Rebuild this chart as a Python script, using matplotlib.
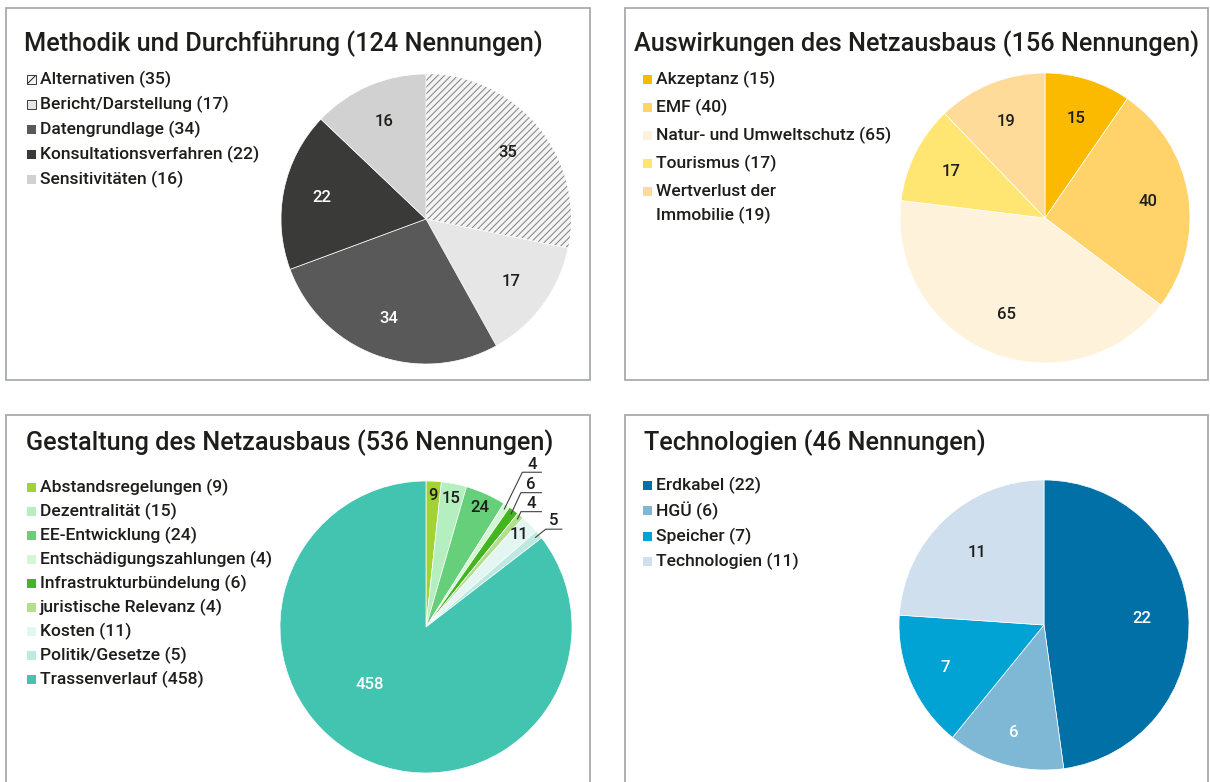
import numpy as np
import matplotlib.pyplot as plt
from matplotlib.patches import Rectangle

plt.rcParams['font.family'] = ['Roboto', 'DejaVu Sans']
plt.rcParams['font.weight'] = 'medium'
plt.rcParams['hatch.linewidth'] = 0.7

W, H = 1210, 782
INK = '#1d1d1b'

# --- data -------------------------------------------------------------
method_title = "Methodik und Durchführung (124 Nennungen)"
method_names = ["Alternativen", "Bericht/Darstellung", "Datengrundlage",
                "Konsultationsverfahren", "Sensitivitäten"]
method_values = [35, 17, 34, 22, 16]
method_colors = ['#f4f4f4', '#e6e6e6', '#595959', '#3a3a39', '#d0d1d0']

impact_title = "Auswirkungen des Netzausbaus (156 Nennungen)"
impact_names = ["Akzeptanz", "EMF", "Natur- und Umweltschutz", "Tourismus",
                "Wertverlust der\nImmobilie"]
impact_values = [15, 40, 65, 17, 19]
impact_colors = ['#fbb900', '#ffd36a', '#fff2da', '#ffe672', '#ffdb9a']

design_title = "Gestaltung des Netzausbaus (536 Nennungen)"
design_names = ["Abstandsregelungen", "Dezentralität", "EE-Entwicklung",
                "Entschädigungszahlungen", "Infrastrukturbündelung",
                "juristische Relevanz", "Kosten", "Politik/Gesetze",
                "Trassenverlauf"]
design_values = [9, 15, 24, 4, 6, 4, 11, 5, 458]
design_colors = ['#a3d233', '#b5eebf', '#65cf79', '#d3f6d5', '#43b51f',
                 '#b2df8e', '#e4f6f1', '#bde9e0', '#43c4b1']

tech_title = "Technologien (46 Nennungen)"
tech_names = ["Erdkabel", "HGÜ", "Speicher", "Technologien"]
tech_values = [22, 6, 7, 11]
tech_colors = ['#0070a7', '#7fb8d5', '#00a3d3', '#cfdfee']

TITLE_SIZE = 18.2
LEGEND_SIZE = 12.6
LABEL_SIZE = 12

# --- figure & background layer in pixel coordinates -------------------
fig = plt.figure(figsize=(W / 100, H / 100), dpi=100)
bg = fig.add_axes([0, 0, 1, 1])
bg.set_xlim(0, W)
bg.set_ylim(H, 0)
bg.axis('off')

panels = [(6, 8, 584, 372), (625, 8, 583, 372),
          (6, 415, 584, 380), (625, 415, 583, 380)]
for x, y, w, h in panels:
    bg.add_patch(Rectangle((x, y), w, h, facecolor='white',
                           edgecolor='#a7abaf', linewidth=1.3, zorder=0))


def legend(x, y0, step, names, values, colors, hatched=None, outlined=None,
           line_gap=24):
    y = y0
    for i, (n, v, c) in enumerate(zip(names, values, colors)):
        hatch = '///' if hatched == i else None
        ec = INK if i in (hatched, outlined) else c
        lw = 0.6 if i in (hatched, outlined) else 0
        bg.add_patch(Rectangle((x, y - 4.5), 9, 9, facecolor=c, edgecolor=ec,
                               linewidth=lw, hatch=hatch, zorder=2))
        lines = f"{n} ({v})".split('\n')
        for k, ln in enumerate(lines):
            bg.text(x + 13, y + k * line_gap, ln, fontsize=LEGEND_SIZE,
                    color=INK, va='center', ha='left')
        y += step + (len(lines) - 1) * line_gap


def pie(cx, cy, r, values, colors, text_colors, dist, hatched=None,
        nudges=None, skip=()):
    ax = fig.add_axes([(cx - r) / W, 1 - (cy + r) / H, 2 * r / W, 2 * r / H])
    wedges, _ = ax.pie(values, colors=colors, startangle=90,
                       counterclock=False, radius=1,
                       wedgeprops=dict(linewidth=0.5, edgecolor='white'))
    ax.set_xlim(-1, 1)
    ax.set_ylim(-1, 1)
    ax.set_aspect('equal')
    ax.axis('off')
    if hatched is not None:
        w = wedges[hatched]
        w.set_hatch('/////')
        w.set_edgecolor('#808080')
        w.set_linewidth(0)
    for i, (w, v) in enumerate(zip(wedges, values)):
        if i in skip:
            continue
        ang = np.deg2rad((w.theta1 + w.theta2) / 2)
        d = dist[i] if np.ndim(dist) else dist
        tx, ty = d * np.cos(ang), d * np.sin(ang)
        if nudges and i in nudges:
            tx += nudges[i][0]
            ty += nudges[i][1]
        ax.text(tx, ty, str(v), ha='center', va='center', fontsize=LABEL_SIZE,
                color=text_colors[i])
    return ax, wedges


# --- panel 1 ----------------------------------------------------------
bg.text(24, 44, method_title, fontsize=TITLE_SIZE, color=INK, va='center')
legend(27, 79, 25, method_names, method_values, method_colors,
       hatched=0, outlined=1)
pie(426, 219, 145, method_values, method_colors,
    [INK, INK, 'white', 'white', INK], 0.73, hatched=0)

# --- panel 2 ----------------------------------------------------------
bg.text(634, 44, impact_title, fontsize=TITLE_SIZE, color=INK, va='center')
legend(643, 79, 28, impact_names, impact_values, impact_colors)
pie(1045, 218, 145, impact_values, impact_colors, [INK] * 5, 0.72)

# --- panel 3 ----------------------------------------------------------
bg.text(26, 443, design_title, fontsize=TITLE_SIZE, color=INK, va='center')
legend(27, 487, 24, design_names, design_values, design_colors)
small = (3, 4, 5, 7)
ax3, w3 = pie(426, 627, 146, design_values, design_colors,
              [INK] * 8 + ['white'], [0.9] * 8 + [0.56],
              nudges={8: (-0.14, 0.11)}, skip=small)

# leader lines for the narrow wedges
elbows = {3: (0.66, 1.06, 0.79), 4: (0.65, 0.92, 0.79),
          5: (0.65, 0.79, 0.79), 7: (0.82, 0.67, 0.93)}
for i in small:
    w = w3[i]
    ang = np.deg2rad((w.theta1 + w.theta2) / 2)
    ax_, ay_ = 0.97 * np.cos(ang), 0.97 * np.sin(ang)
    ex, ey, endx = elbows[i]
    ax3.plot([ax_, ex, endx], [ay_, ey, ey], color='#404040', lw=0.8,
             clip_on=False)
    ax3.text((ex + endx) / 2, ey + 0.005, str(design_values[i]), ha='center',
             va='bottom', fontsize=LABEL_SIZE, color=INK, clip_on=False)

# --- panel 4 ----------------------------------------------------------
bg.text(644, 443, tech_title, fontsize=TITLE_SIZE, color=INK, va='center')
legend(643, 485, 25.5, tech_names, tech_values, tech_colors)
pie(1044, 625, 145, tech_values, tech_colors,
    ['white', 'white', 'white', INK], [0.68, 0.77, 0.74, 0.68])

fig.savefig('out.png', dpi=100)
